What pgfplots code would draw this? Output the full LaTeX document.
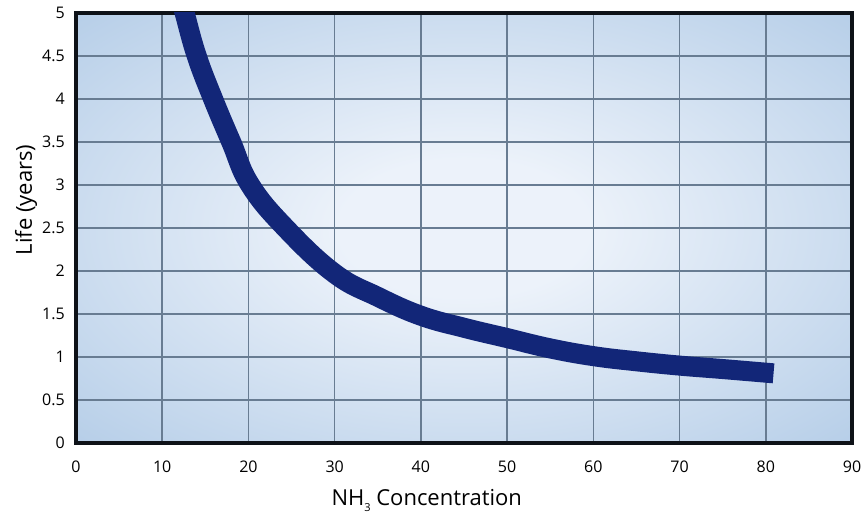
\documentclass[border=0pt]{standalone}
\usepackage{fontspec}
\setmainfont{Open Sans}
\usepackage{pgfplots}
\pgfplotsset{compat=1.18}

\definecolor{curve}{RGB}{18,38,120}
\definecolor{gridc}{RGB}{104,124,146}
\definecolor{framec}{RGB}{14,18,24}
\definecolor{bgin}{RGB}{236,242,250}
\definecolor{bgout}{RGB}{158,190,224}
\pgfdeclareradialshading{bgshade}{\pgfpoint{0bp}{0bp}}{%
  color(0bp)=(bgin); color(8bp)=(bgin); color(48bp)=(bgout); color(72bp)=(bgout)}

\begin{document}
\begin{tikzpicture}
\begin{axis}[
    scale only axis,
    width=776pt, height=430pt,
    xmin=0, xmax=90, ymin=0, ymax=5,
    xtick={0,10,...,90},
    ytick={0,0.5,1,1.5,2,2.5,3,3.5,4,4.5,5},
    yticklabels={0,0.5,1,1.5,2,2.5,3,3.5,4,4.5,5},
    major tick length=0pt,
    grid=major,
    major grid style={draw=gridc, line width=1.5pt},
    axis line style={draw=framec, line width=3.5pt},
    axis background/.style={shade, shading=bgshade},
    /pgf/number format/assume math mode=true,
    tick label style={font=\fontsize{16}{16}\selectfont},
    yticklabel style={inner sep=0pt, anchor=east, xshift=-11pt},
    xticklabel style={inner sep=0pt, anchor=north, yshift=-18pt},
    xlabel={NH\raisebox{-6pt}{\fontsize{11}{11}\selectfont 3} Concentration},
    ylabel={Life (years)},
    label style={font=\fontsize{22}{22}\selectfont},
    xlabel style={at={(rel axis cs:0.452,0)}, anchor=base, yshift=-62pt},
    ylabel style={at={(rel axis cs:0,0.565)}, anchor=base, yshift=44pt},
]
\addplot[curve, line width=20pt, smooth, tension=0.7] coordinates {
  (12.2,5.15) (12.6,5.0) (14.0,4.5) (15.9,4.0) (18.0,3.5) (20.2,3.0)
  (24.3,2.5) (30,1.97) (35,1.7) (40,1.48) (45,1.34)
  (50,1.22) (55,1.1) (60,1.01) (65,0.95) (70,0.9) (75,0.86) (80.9,0.81)
};
\end{axis}
\path (current axis.south west) ++(-76pt,-72pt);
\path (current axis.north east) ++(10pt,13pt);
\end{tikzpicture}
\end{document}
